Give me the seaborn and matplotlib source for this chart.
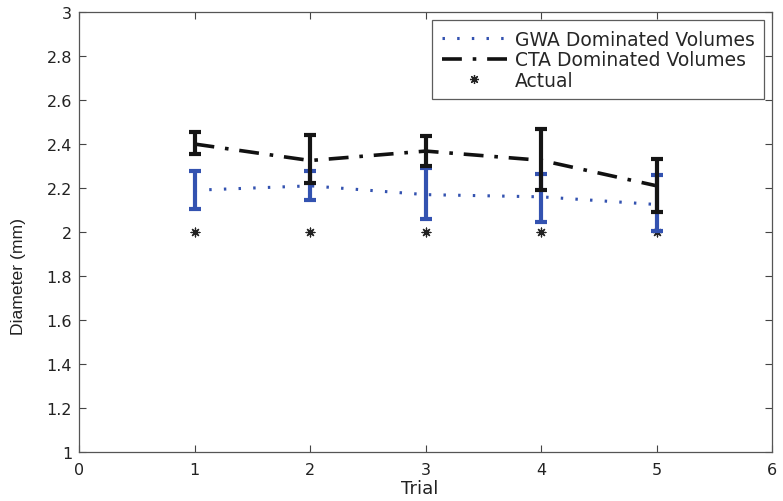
import matplotlib
matplotlib.use("Agg")
import matplotlib.pyplot as plt
import seaborn as sns
import pandas as pd
from matplotlib.lines import Line2D

trials = [1, 2, 3, 4, 5]
gwa_mean = [2.19, 2.21, 2.17, 2.16, 2.125]
gwa_low = [2.105, 2.147, 2.06, 2.047, 2.006]
gwa_high = [2.277, 2.277, 2.29, 2.265, 2.257]
cta_mean = [2.40, 2.325, 2.368, 2.326, 2.21]
cta_low = [2.356, 2.224, 2.30, 2.19, 2.093]
cta_high = [2.455, 2.443, 2.437, 2.47, 2.333]
actual = [2.0, 2.0, 2.0, 2.0, 2.0]
ytick_vals = [1, 1.2, 1.4, 1.6, 1.8, 2, 2.2, 2.4, 2.6, 2.8, 3]
ytick_labels = ['1', '1.2', '1.4', '1.6', '1.8', '2', '2.2', '2.4', '2.6', '2.8', '3']
legend_labels = ['GWA Dominated Volumes', 'CTA Dominated Volumes', 'Actual']

sns.set_theme(style="white")
plt.rcParams['font.family'] = ['DejaVu Sans']

fig = plt.figure(figsize=(7.83, 5.02), dpi=100)
ax = fig.add_axes([0.1009, 0.0976, 0.8855, 0.8764])

blue = '#3352b0'
dotted = (0, (0.8, 4.0))
dashdot = (0, (5.5, 3, 1, 3))
df = pd.DataFrame({'Trial': trials, 'GWA': gwa_mean, 'CTA': cta_mean, 'Actual': actual})

sns.lineplot(data=df, x='Trial', y='GWA', ax=ax, color=blue, lw=2.2, linestyle=dotted)
sns.lineplot(data=df, x='Trial', y='CTA', ax=ax, color='#111111', lw=2.6, linestyle=dashdot)

ax.errorbar(trials, gwa_mean,
            yerr=[[m - l for m, l in zip(gwa_mean, gwa_low)],
                  [h - m for m, h in zip(gwa_mean, gwa_high)]],
            fmt='none', ecolor=blue, elinewidth=3, capsize=4, capthick=3)
ax.errorbar(trials, cta_mean,
            yerr=[[m - l for m, l in zip(cta_mean, cta_low)],
                  [h - m for m, h in zip(cta_mean, cta_high)]],
            fmt='none', ecolor='#151515', elinewidth=3, capsize=4, capthick=3)

sns.scatterplot(data=df, x='Trial', y='Actual', ax=ax, marker=(8, 2, 0),
                s=40, color='#222222', linewidth=0.9, edgecolor='#222222')

ax.set_xlim(0, 6)
ax.set_ylim(1, 3)
ax.set_xticks(range(0, 7))
ax.set_yticks(ytick_vals)
ax.set_yticklabels(ytick_labels)
ax.tick_params(direction='in', length=5, width=0.8, colors='#444444',
               labelcolor='#222222', labelsize=11.5, top=True, right=True,
               bottom=True, left=True)
ax.tick_params(axis='x', pad=7)
ax.tick_params(axis='y', pad=5)
for s in ax.spines.values():
    s.set_color('#555555')
    s.set_linewidth(0.9)
ax.set_xlabel('Trial', fontsize=13, color='#222222', va='top')
ax.xaxis.set_label_coords(0.492, -0.062)
ax.set_ylabel('Diameter (mm)', fontsize=12.6, color='#222222',
              family='Liberation Sans')
ax.yaxis.set_label_coords(-0.077, 0.402)

handles = [
    Line2D([], [], color=blue, lw=2.2, linestyle=dotted),
    Line2D([], [], color='#111111', lw=2.6, linestyle=dashdot),
    Line2D([], [], color='#222222', lw=0, marker=(8, 2, 0), markersize=6.5,
           markeredgewidth=0.9),
]
leg = ax.legend(handles, legend_labels,
                loc='upper right', fontsize=13.5, frameon=True, fancybox=False,
                edgecolor='#333333', handlelength=3.5, borderaxespad=0.45,
                labelspacing=0.08, borderpad=0.5, handletextpad=0.4)
leg.get_frame().set_linewidth(0.9)

fig.savefig('out.png', dpi=100)
